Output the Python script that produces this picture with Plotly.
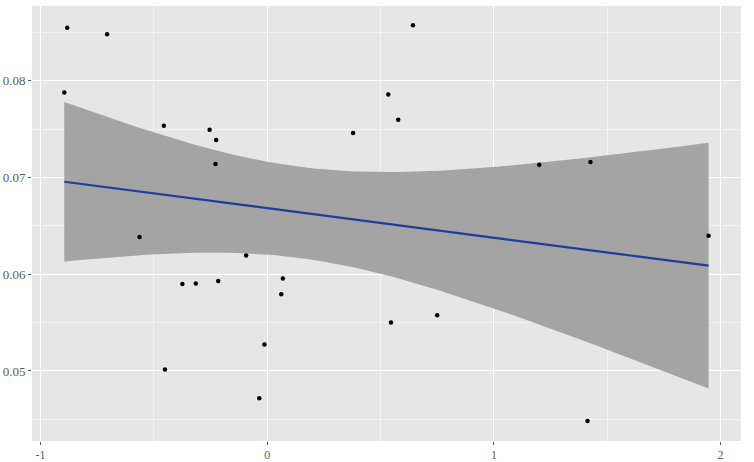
import numpy as np
import plotly.graph_objects as go

x_vals = [-0.882, -0.706, -0.895, -0.456, -0.254, -0.225, -0.228, -0.563, -0.093,
          -0.374, -0.315, -0.216, -0.451, -0.035, 0.069, 0.062, -0.012, 0.546,
          0.750, 0.643, 0.534, 0.578, 0.379, 1.200, 1.426, 1.947, 1.413]
y_vals = [0.08548, 0.0848, 0.0788, 0.07535, 0.07493, 0.07387, 0.07139, 0.06384, 0.06194,
          0.05898, 0.05905, 0.05929, 0.05015, 0.04719, 0.05957, 0.05794, 0.05274, 0.05502,
          0.05577, 0.08573, 0.07859, 0.07597, 0.07459, 0.07131, 0.07159, 0.06397, 0.04484]

x_ticks = [-1, 0, 1, 2]
x_ticklabels = ["-1", "0", "1", "2"]
y_ticks = [0.05, 0.06, 0.07, 0.08]
y_ticklabels = ["0.05", "0.06", "0.07", "0.08"]

# linear model with 95% confidence band (as geom_smooth(method="lm"))
x = np.array(x_vals)
y = np.array(y_vals)
n = len(x)
b1, b0 = np.polyfit(x, y, 1)
resid = y - (b0 + b1 * x)
s = np.sqrt(np.sum(resid ** 2) / (n - 2))
t_crit = 2.0595  # t(0.975, df=25)
xs = np.linspace(x.min(), x.max(), 80)
ys = b0 + b1 * xs
se = s * np.sqrt(1 / n + (xs - x.mean()) ** 2 / np.sum((x - x.mean()) ** 2))
upper = ys + t_crit * se
lower = ys - t_crit * se

fig = go.Figure()
fig.add_trace(go.Scatter(x=np.concatenate([xs, xs[::-1]]), y=np.concatenate([upper, lower[::-1]]),
                         fill="toself", fillcolor="#a4a4a4", line=dict(width=0),
                         mode="lines", hoverinfo="skip", showlegend=False))
fig.add_trace(go.Scatter(x=xs, y=ys, mode="lines", line=dict(color="#1c3d9c", width=2.2),
                         showlegend=False))
fig.add_trace(go.Scatter(x=x_vals, y=y_vals, mode="markers",
                         marker=dict(color="black", size=4.5), showlegend=False))

y_font = dict(family="Liberation Serif", size=13, color="#5a5a5a")
x_font = dict(family="Liberation Serif", size=12, color="#5a5a5a")
fig.update_layout(
    width=754, height=462,
    margin=dict(l=32, r=13, t=6, b=21),
    paper_bgcolor="white", plot_bgcolor="#e6e6e6",
    xaxis=dict(range=[-1.0375, 2.09], tickvals=x_ticks, ticktext=x_ticklabels,
               showgrid=True, gridcolor="white", gridwidth=1.3, zeroline=False,
               ticks="outside", ticklen=3, tickcolor="#555555", tickwidth=1,
               tickfont=x_font, showline=False, automargin=False, ticklabelstandoff=0,
               minor=dict(tickvals=[-0.5, 0.5, 1.5], showgrid=True, gridcolor="#f2f2f2", gridwidth=0.7)),
    yaxis=dict(range=[0.04276, 0.08773], tickvals=y_ticks, ticktext=y_ticklabels,
               showgrid=True, gridcolor="white", gridwidth=1.3, zeroline=False,
               ticks="outside", ticklen=3, tickcolor="#555555", tickwidth=1,
               tickfont=y_font, showline=False, automargin=False, ticklabelstandoff=0,
               minor=dict(tickvals=[0.045, 0.055, 0.065, 0.075, 0.085], showgrid=True,
                          gridcolor="#f2f2f2", gridwidth=0.7)),
)
fig.write_html("out.html", config={"displayModeBar": False},
               post_script="document.body.style.margin='0';")
